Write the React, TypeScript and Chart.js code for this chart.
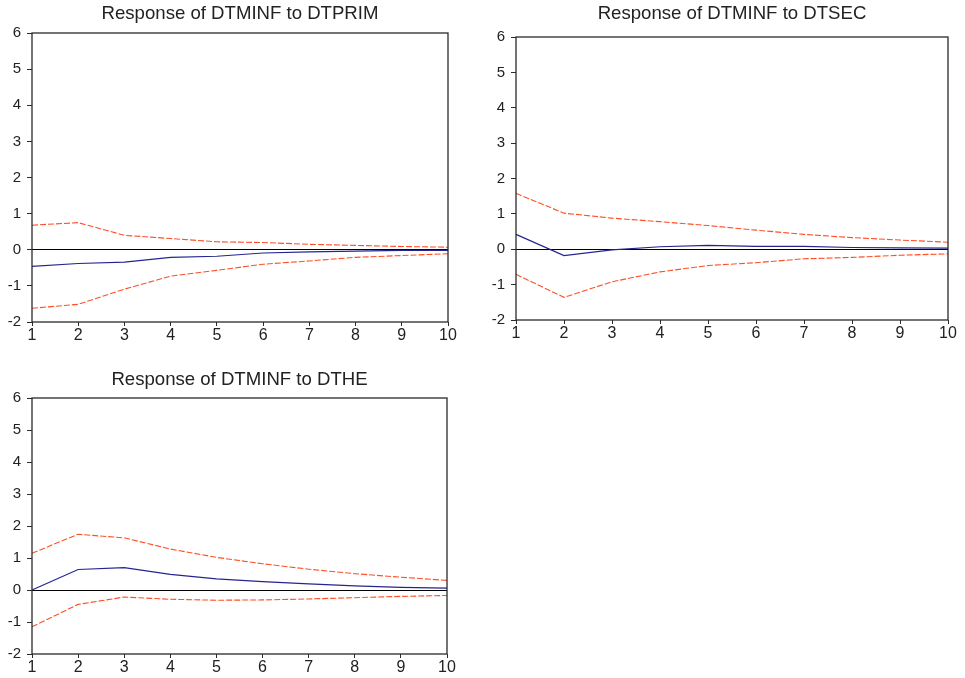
import React, { useEffect, useRef } from "react";
import { Chart, registerables } from "chart.js";

Chart.register(...registerables);

// ---------- data ----------
const periods = ["1", "2", "3", "4", "5", "6", "7", "8", "9", "10"];
const yMin = -2;
const yMax = 6;

const primResp = [-0.46, -0.38, -0.34, -0.21, -0.18, -0.09, -0.06, -0.04, -0.02, -0.02];
const primUpper = [0.68, 0.75, 0.4, 0.31, 0.22, 0.2, 0.15, 0.12, 0.09, 0.07];
const primLower = [-1.62, -1.51, -1.09, -0.73, -0.57, -0.4, -0.31, -0.21, -0.16, -0.11];

const secResp = [0.42, -0.18, -0.02, 0.07, 0.11, 0.08, 0.08, 0.05, 0.04, 0.03];
const secUpper = [1.58, 1.02, 0.88, 0.78, 0.67, 0.54, 0.42, 0.33, 0.26, 0.2];
const secLower = [-0.71, -1.36, -0.92, -0.64, -0.46, -0.38, -0.27, -0.23, -0.17, -0.13];

const heResp = [0.0, 0.64, 0.7, 0.49, 0.35, 0.26, 0.19, 0.13, 0.08, 0.06];
const heUpper = [1.15, 1.74, 1.63, 1.28, 1.02, 0.82, 0.65, 0.51, 0.4, 0.3];
const heLower = [-1.15, -0.45, -0.22, -0.29, -0.32, -0.31, -0.28, -0.24, -0.2, -0.17];

const titles = [
  "Response of DTMINF to DTPRIM",
  "Response of DTMINF to DTSEC",
  "Response of DTMINF to DTHE",
];

// ---------- styles ----------
const FONT = "'Liberation Sans', Arial, Helvetica, sans-serif";
const BLUE = "#25258f";
const RED = "#ff4f26";
const AXIS = "#2a2a2a";

type PanelProps = {
  title: string;
  resp: number[];
  upper: number[];
  lower: number[];
  x0: number;
  y0: number;
  L: number;
  T: number;
  R: number;
  B: number;
  titleY: number;
  bottomSpace: number;
};

const boxPlugin = {
  id: "plotBox",
  afterDatasetsDraw(chart: any) {
    const { ctx, chartArea } = chart;
    ctx.save();
    ctx.strokeStyle = AXIS;
    ctx.lineWidth = 1.3;
    ctx.strokeRect(
      chartArea.left,
      chartArea.top,
      chartArea.right - chartArea.left,
      chartArea.bottom - chartArea.top
    );
    ctx.restore();
  },
};

function Panel(p: PanelProps) {
  const ref = useRef<HTMLCanvasElement | null>(null);
  const rightPad = 14;
  const W = p.R - p.x0 + rightPad;
  const H = p.B - p.y0 + p.bottomSpace;
  const yAxisW = p.L - p.x0;
  const titleSize = 18.6;
  const titleLine = titleSize * 1.2;
  const padTop = p.titleY - p.y0 - titleLine / 2;
  const padBottom = p.T - p.y0 - padTop - titleLine;

  useEffect(() => {
    if (!ref.current) return;
    const dashed = (data: number[]) => ({
      data,
      borderColor: RED,
      borderWidth: 1.1,
      borderDash: [6, 2],
      pointRadius: 0,
      fill: false,
      tension: 0,
    });
    const chart = new Chart(ref.current, {
      type: "line",
      data: {
        labels: periods,
        datasets: [
          dashed(p.upper),
          dashed(p.lower),
          {
            data: p.resp,
            borderColor: BLUE,
            borderWidth: 1.2,
            pointRadius: 0,
            fill: false,
            tension: 0,
          },
        ],
      },
      options: {
        responsive: false,
        animation: false,
        events: [],
        layout: { padding: { left: 0, top: 0, right: rightPad, bottom: 0 } },
        plugins: {
          legend: { display: false },
          tooltip: { enabled: false },
          title: {
            display: true,
            text: p.title,
            fullSize: false,
            color: "#222",
            font: { family: FONT, size: titleSize, weight: "normal", lineHeight: 1.2 },
            padding: { top: padTop, bottom: padBottom },
          },
        },
        scales: {
          x: {
            type: "category",
            offset: false,
            border: { display: false },
            grid: {
              drawOnChartArea: false,
              drawTicks: true,
              tickLength: 4,
              tickColor: AXIS,
            },
            ticks: {
              color: "#222",
              padding: 0,
              maxRotation: 0,
              autoSkip: false,
              font: { family: FONT, size: 16 },
            },
            afterFit: (scale: any) => {
              scale.height = p.bottomSpace;
            },
          },
          y: {
            type: "linear",
            min: yMin,
            max: yMax,
            border: { display: false },
            grid: {
              drawOnChartArea: true,
              drawTicks: true,
              tickLength: 5,
              tickColor: AXIS,
              lineWidth: 1,
              color: (c: any) =>
                c.tick && c.tick.value === 0 ? "#000" : "rgba(0,0,0,0)",
            },
            ticks: {
              stepSize: 1,
              color: "#222",
              padding: 6,
              font: { family: FONT, size: 15 },
            },
            afterFit: (scale: any) => {
              scale.width = yAxisW;
            },
          },
        },
      },
      plugins: [boxPlugin],
    } as any);
    return () => chart.destroy();
  }, []);

  return (
    <canvas
      ref={ref}
      width={W}
      height={H}
      style={{
        position: "absolute",
        left: p.x0,
        top: p.y0,
        width: W,
        height: H,
      }}
    />
  );
}

export default function App() {
  return (
    <div
      style={{
        position: "absolute",
        left: 0,
        top: 0,
        width: 965,
        height: 678,
        background: "#fff",
        overflow: "hidden",
      }}
    >
      <Panel
        title={titles[0]}
        resp={primResp}
        upper={primUpper}
        lower={primLower}
        x0={0}
        y0={0}
        L={32}
        T={33}
        R={448}
        B={322}
        titleY={14}
        bottomSpace={30}
      />
      <Panel
        title={titles[1]}
        resp={secResp}
        upper={secUpper}
        lower={secLower}
        x0={482}
        y0={0}
        L={516}
        T={37}
        R={948}
        B={320}
        titleY={14}
        bottomSpace={30}
      />
      <Panel
        title={titles[2]}
        resp={heResp}
        upper={heUpper}
        lower={heLower}
        x0={0}
        y0={360}
        L={32}
        T={398}
        R={447}
        B={654}
        titleY={380}
        bottomSpace={22}
      />
    </div>
  );
}
